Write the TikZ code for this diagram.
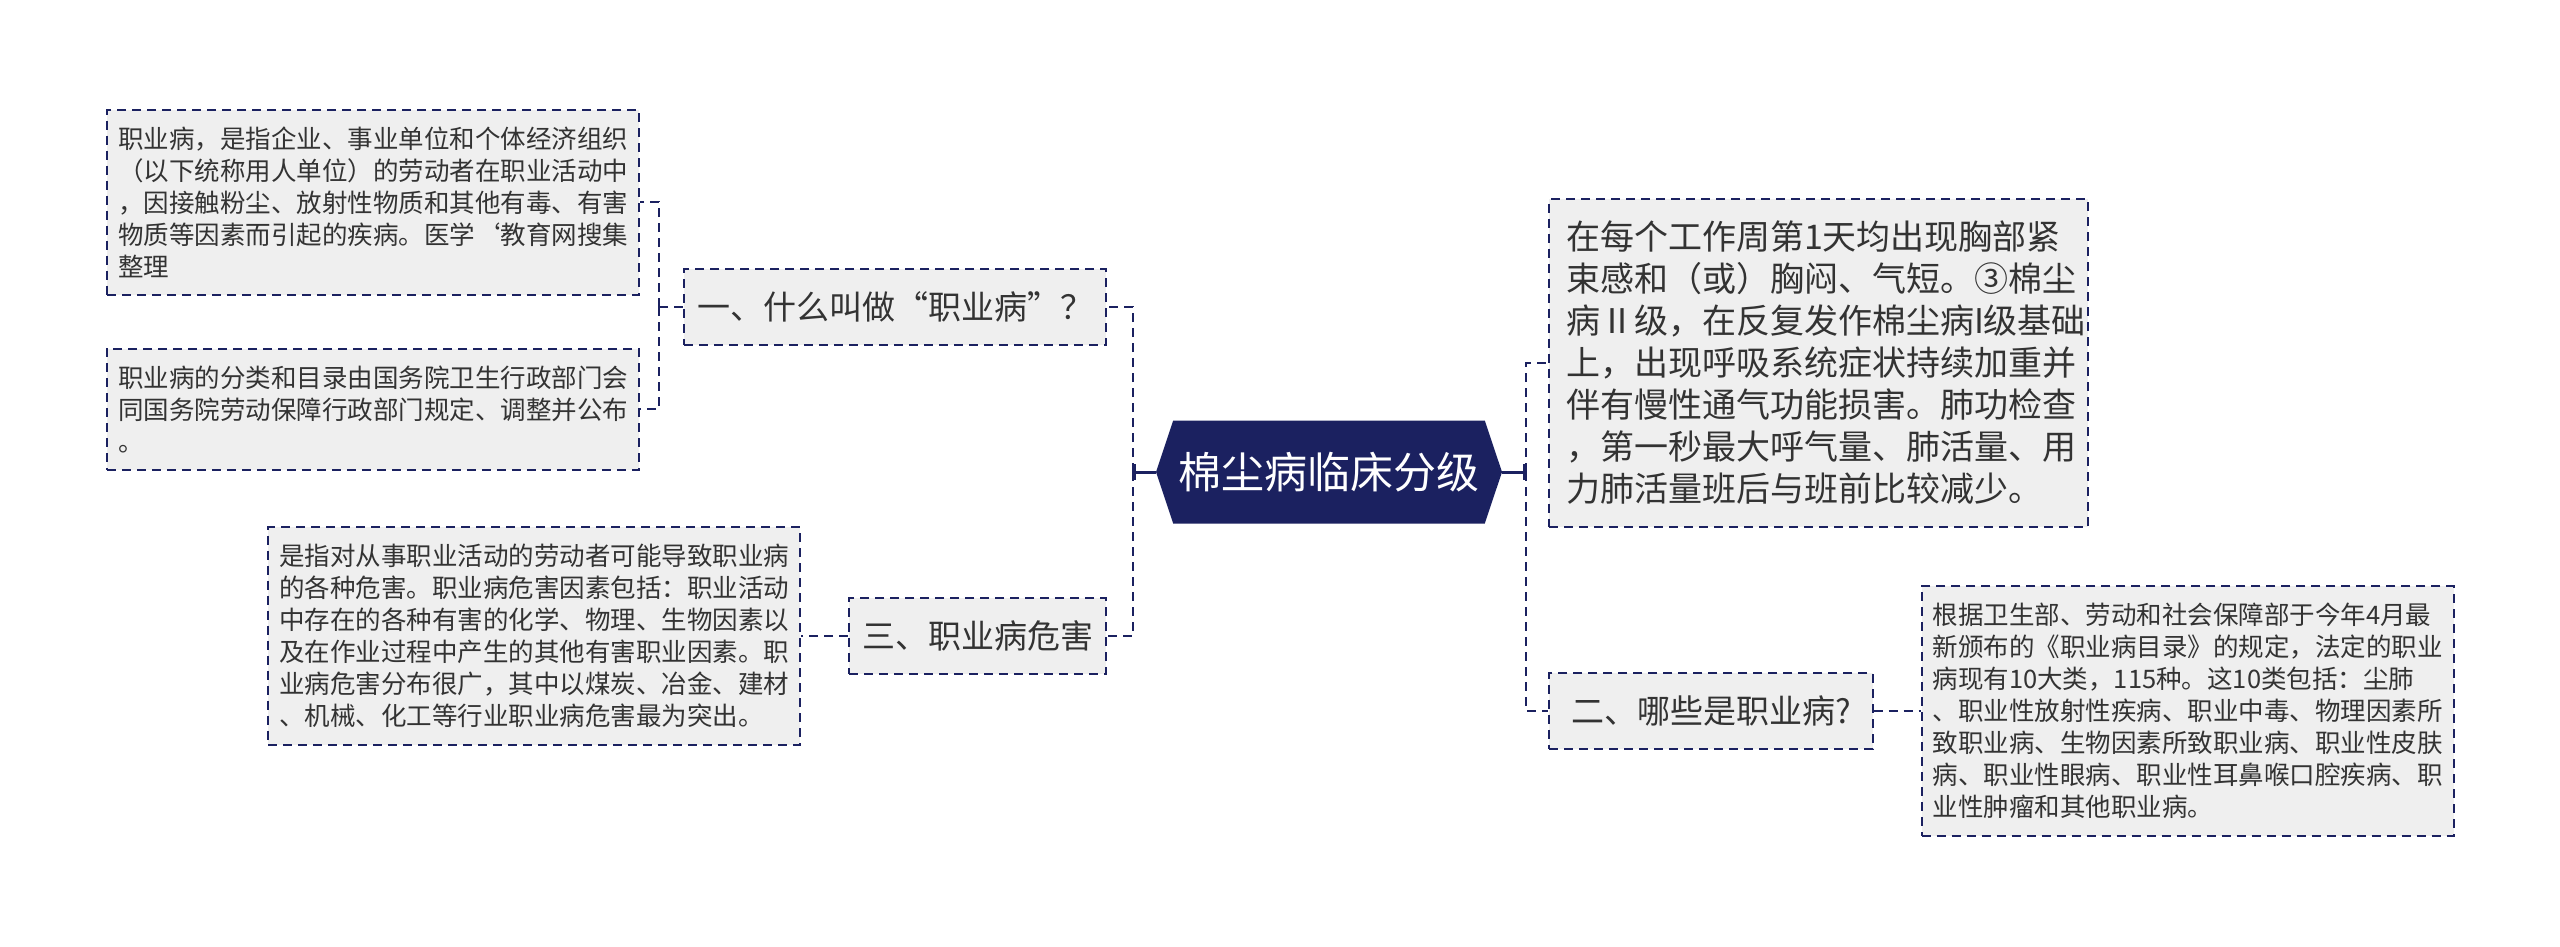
\documentclass[tikz,border=0pt]{standalone}
\usepackage{fontspec}
\setmainfont{Noto Sans CJK SC}
\usetikzlibrary{positioning,arrows.meta,shapes.symbols}
\definecolor{navy}{HTML}{1B2160}
\definecolor{boxfill}{HTML}{EFEFEF}
\definecolor{txt}{HTML}{333333}

\begin{document}
\begin{tikzpicture}[
      x=1pt, y=-1pt,
      topic/.style={draw=navy, line width=2pt, dash pattern=on 9pt off 6pt, fill=boxfill, text=txt},
      leaf/.style={topic, font=\fontsize{25.5}{32}\selectfont, text width=510pt, align=left, inner xsep=11pt, inner ysep=17pt},
      sub/.style={topic, font=\fontsize{33}{40}\selectfont, minimum height=76pt, inner xsep=13pt},
      link/.style={draw=navy, line width=2.5pt, dash pattern=on 9pt off 6pt},
      stub/.style={draw=navy, line width=3pt, -{Bar[width=16pt]}},
    ]
      \useasboundingbox (0,0) rectangle (2560,946);

      % centre
      \node[signal, signal to=west and east, signal pointer angle=143, fill=navy, text=white,
            font=\fontsize{43}{50}\selectfont, minimum width=346pt, minimum height=103pt, inner sep=0pt] (root) at (1329,472) {棉尘病临床分级};

      % left branch
      \node[sub, anchor=east] (n1) at (1107,307) {一、什么叫做“职业病”？};
      \node[sub, anchor=east] (n3) at (1107,636) {三、职业病危害};
      \node[leaf, anchor=east] (d1) at (640,202) {职业病，是指企业、事业单位和个体经济组织\\（以下统称用人单位）的劳动者在职业活动中\\，因接触粉尘、放射性物质和其他有毒、有害\\物质等因素而引起的疾病。医学\symbol{96}教育网搜集\\整理};
      \node[leaf, below=52pt of d1] (d2) {职业病的分类和目录由国务院卫生行政部门会\\同国务院劳动保障行政部门规定、调整并公布\\。};
      \node[leaf, left=47pt of n3] (d3) {是指对从事职业活动的劳动者可能导致职业病\\的各种危害。职业病危害因素包括：职业活动\\中存在的各种有害的化学、物理、生物因素以\\及在作业过程中产生的其他有害职业因素。职\\业病危害分布很广，其中以煤炭、冶金、建材\\、机械、化工等行业职业病危害最为突出。};

      % right branch
      \node[topic, font=\fontsize{34}{42}\selectfont, text width=505pt, align=left, inner xsep=17pt, inner ysep=22pt, anchor=west] (r1) at (1548,363) {在每个工作周第1天均出现胸部紧\\束感和（或）胸闷、气短。③棉尘\\病Ⅱ级，在反复发作棉尘病I级基础\\上，出现呼吸系统症状持续加重并\\伴有慢性通气功能损害。肺功检查\\，第一秒最大呼气量、肺活量、用\\力肺活量班后与班前比较减少。};
      \node[sub, inner xsep=22pt, anchor=west] (n2) at (1548,711) {二、哪些是职业病?};
      \node[leaf, right=47pt of n2] (d4) {根据卫生部、劳动和社会保障部于今年4月最\\新颁布的《职业病目录》的规定，法定的职业\\病现有10大类，115种。这10类包括：尘肺\\、职业性放射性疾病、职业中毒、物理因素所\\致职业病、生物因素所致职业病、职业性皮肤\\病、职业性眼病、职业性耳鼻喉口腔疾病、职\\业性肿瘤和其他职业病。};

      % connectors
      \draw[stub] (root.west) -- ++(-23,0) coordinate (lj);
      \draw[stub] (root.east) -- ++(24,0) coordinate (rj);
      \draw[link] (lj) |- (n1.east);
      \draw[link] (lj) |- (n3.east);
      \draw[link] (rj) |- (r1.west);
      \draw[link] (rj) |- (n2.west);
      \draw[link] (n1.west) -- ++(-24,0) coordinate (aj);
      \draw[link] (aj) |- (d1.east);
      \draw[link] (aj) |- (d2.east);
      \draw[link] (n3.west) -- (d3.east);
      \draw[link] (n2.east) -- (d4.west);
    \end{tikzpicture}
\end{document}
